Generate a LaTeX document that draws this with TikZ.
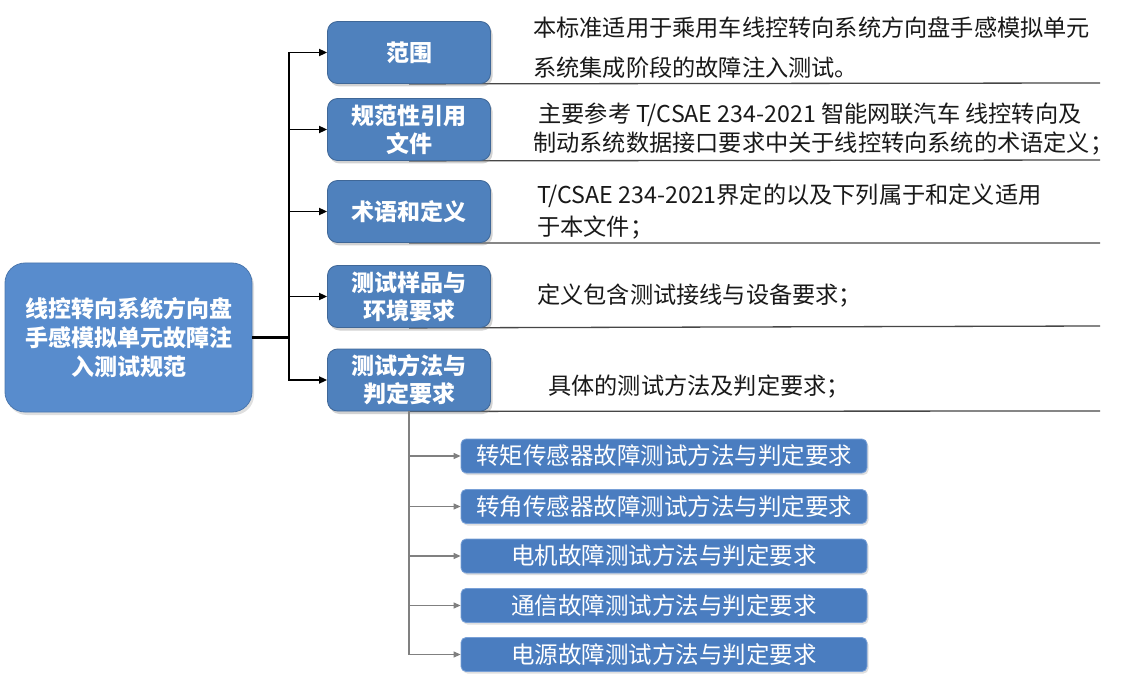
\documentclass[tikz,border=0pt]{standalone}
\usepackage{fontspec}
\setmainfont{Noto Sans CJK SC}
\usetikzlibrary{arrows.meta,shadows,backgrounds}
\definecolor{boxblue}{RGB}{79,129,189}
\definecolor{rootblue}{RGB}{88,140,205}
\definecolor{subblue}{RGB}{74,125,192}
\definecolor{subedge}{RGB}{120,160,215}
\definecolor{linegray}{RGB}{70,70,70}
\definecolor{subline}{RGB}{128,128,128}
\definecolor{txt}{RGB}{25,25,25}
\tikzset{
  rootbox/.style={draw=rootblue!85!black, line width=0.8pt, fill=rootblue, rounded corners=20pt,
    minimum width=247pt, minimum height=149pt, align=center, text=white,
    font=\fontsize{23}{29}\selectfont\bfseries,
    drop shadow={opacity=0.25, shadow xshift=2pt, shadow yshift=-3pt}},
  lonebox/.style={draw=boxblue!80!black, line width=0.8pt, fill=boxblue, rounded corners=10pt,
    minimum width=163pt, minimum height=62pt, align=center, text=white,
    font=\fontsize{23}{28}\selectfont\bfseries,
    drop shadow={opacity=0.35, shadow xshift=2pt, shadow yshift=-3pt}},
  subbox/.style={draw=subedge, line width=0.8pt, fill=subblue, rounded corners=5pt,
    minimum width=406pt, minimum height=34pt, align=center, text=white,
    font=\fontsize{23.5}{28}\selectfont,
    drop shadow={opacity=0.25, shadow xshift=1.5pt, shadow yshift=-2pt}},
  desc/.style={anchor=west, align=left, text=txt, inner sep=0pt},
  conn/.style={draw=black, line width=1.7pt, -{Triangle[length=8pt,width=7pt]}},
  trunkline/.style={draw=black, line width=2.4pt},
  subconn/.style={draw=subline, line width=1.2pt, -{Triangle[length=7pt,width=6pt]}},
  underline/.style={draw=linegray, line width=1.3pt},
}
\begin{document}
\begin{tikzpicture}[x=1pt,y=-1pt]
\useasboundingbox (0,0) rectangle (1130,679);

% level-1 boxes
\node[lonebox] (b1) at (409,52.5) {范围};
\node[lonebox] (b2) at (409,129.5) {规范性引用\\文件};
\node[lonebox] (b3) at (409,211.5) {术语和定义};
\node[lonebox] (b4) at (409,296.5) {测试样品与\\环境要求};
\node[lonebox] (b5) at (409,380) {测试方法与\\判定要求};

% underlines (behind the boxes)
\coordinate (e1) at (1100,83);
\coordinate (e2) at (1100,160);
\coordinate (e3) at (1100,243);
\coordinate (e4) at (1100,326);
\coordinate (e5) at (1100,411);
\begin{pgfonlayer}{background}
\fill[white] (0,0) rectangle (1130,679);
\draw[underline] (b1.south) -- (e1);
\draw[underline] (b2.south) -- (e2);
\draw[underline] (b3.south) -- (e3);
\draw[underline] (b4.south) -- (e4);
\draw[underline] (b5.south) -- (e5);
\end{pgfonlayer}

% root
\node[rootbox] (root) at (128.5,337.5) {线控转向系统方向盘\\手感模拟单元故障注\\入测试规范};

% root connectors
\coordinate (tk) at (289,337.5);
\draw[trunkline] (root.east) -- (tk);
\draw[conn] (tk) |- (b1.west);
\draw[conn] (tk) |- (b2.west);
\draw[conn] (tk) |- (b3.west);
\draw[conn] (tk) |- (b4.west);
\draw[conn] (tk) |- (b5.west);

% descriptions
\node[desc, font=\fontsize{23.2}{40}\selectfont] (t1) at (533,48) {本标准适用于乘用车线控转向系统方向盘手感模拟单元\\系统集成阶段的故障注入测试。};
\node[desc, font=\fontsize{23.2}{29}\selectfont] (t2) at (533,129.5) {\ 主要参考 T/CSAE 234-2021 智能网联汽车 线控转向及\\制动系统数据接口要求中关于线控转向系统的术语定义；};
\node[desc, font=\fontsize{23.2}{32}\selectfont] (t3) at (537,212) {T/CSAE 234-2021界定的以及下列属于和定义适用\\于本文件；};
\node[desc, font=\fontsize{23.2}{29}\selectfont] (t4) at (537,296) {定义包含测试接线与设备要求；};
\node[desc, font=\fontsize{23.2}{29}\selectfont] (t5) at (548,387) {具体的测试方法及判定要求；};

% sub boxes
\node[subbox] (c1) at (664,456) {转矩传感器故障测试方法与判定要求};
\node[subbox] (c2) at (664,506.5) {转角传感器故障测试方法与判定要求};
\node[subbox] (c3) at (664,556) {电机故障测试方法与判定要求};
\node[subbox] (c4) at (664,605.5) {通信故障测试方法与判定要求};
\node[subbox] (c5) at (664,654.5) {电源故障测试方法与判定要求};

% sub connectors
\draw[subconn] (b5.south) |- (c1.west);
\draw[subconn] (b5.south) |- (c2.west);
\draw[subconn] (b5.south) |- (c3.west);
\draw[subconn] (b5.south) |- (c4.west);
\draw[subconn] (b5.south) |- (c5.west);
\end{tikzpicture}
\end{document}
